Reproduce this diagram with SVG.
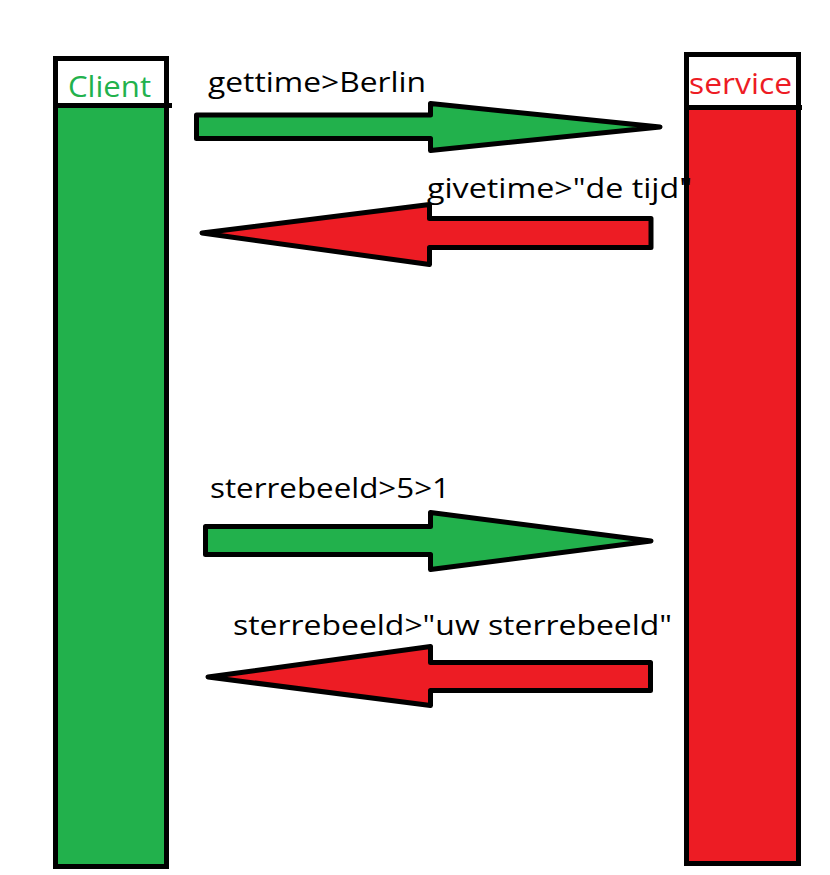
<svg xmlns="http://www.w3.org/2000/svg" width="830" height="875" viewBox="0 0 830 875">
<style>
.box{stroke:#000;stroke-width:5}
.arr{stroke:#000;stroke-width:5;stroke-linejoin:round}
.g{fill:#22b14c}
.r{fill:#ed1c24}
.lbl{font-family:"Open Sans","Noto Sans",sans-serif;font-size:28px;fill:#000}
.hdr{font-family:"Open Sans","Noto Sans",sans-serif;font-size:30px}
</style>
<rect width="830" height="875" fill="#fff"/>
<g id="client">
<rect class="box g" x="55.5" y="58.5" width="111" height="808"/>
<rect x="58" y="61" width="106" height="42" fill="#fff"/>
<line x1="55" y1="105.5" x2="172" y2="105.5" stroke="#000" stroke-width="5"/>
<text class="hdr" x="68" y="97" fill="#22b14c" textLength="83" lengthAdjust="spacingAndGlyphs">Client</text>
</g>
<g id="service">
<rect class="box r" x="686.5" y="54.5" width="112" height="809"/>
<rect x="689" y="57" width="107" height="48" fill="#fff"/>
<line x1="686" y1="107.5" x2="802" y2="107.5" stroke="#000" stroke-width="5"/>
<text class="hdr" x="689" y="94" fill="#ed1c24" textLength="103" lengthAdjust="spacingAndGlyphs">service</text>
</g>
<g id="connectors">
<polygon class="arr g" points="196.5,115 430.5,115 430.5,103.5 660,127 430.5,150.5 430.5,138.5 196.5,138.5"/>
<polygon class="arr r" points="651,218.5 429.5,218.5 429.5,204.5 202,233 429.5,264.5 429.5,247.5 651,247.5"/>
<polygon class="arr g" points="205.5,526.5 430.5,526.5 430.5,512.5 651,541 430.5,569.5 430.5,554.5 205.5,554.5"/>
<polygon class="arr r" points="650.5,662.5 430.5,662.5 430.5,646.5 208,677 430.5,705.5 430.5,690.5 650.5,690.5"/>
<text class="lbl" x="208" y="92" textLength="218" lengthAdjust="spacingAndGlyphs">gettime&gt;Berlin</text>
<text class="lbl" x="427" y="198" textLength="265" lengthAdjust="spacingAndGlyphs">givetime&gt;"de tijd"</text>
<text class="lbl" x="210" y="498" textLength="240" lengthAdjust="spacingAndGlyphs">sterrebeeld&gt;5&gt;1</text>
<text class="lbl" x="233" y="635" textLength="439" lengthAdjust="spacingAndGlyphs">sterrebeeld&gt;"uw sterrebeeld"</text>
</g>
</svg>
